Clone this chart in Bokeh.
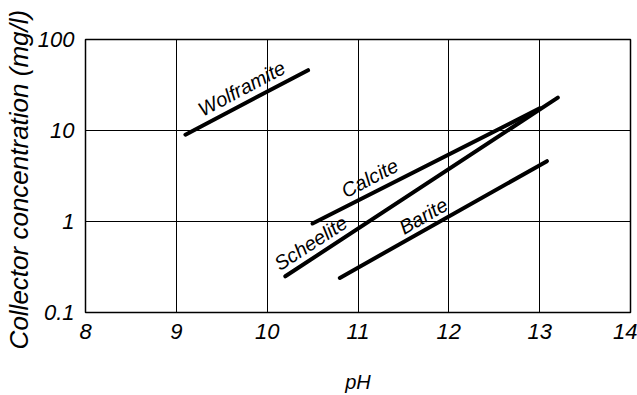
from bokeh.plotting import figure
from bokeh.models import FixedTicker, Label
from bokeh.embed import file_html
from bokeh.resources import INLINE

# ---- data ----
x_ticks = [8, 9, 10, 11, 12, 13, 14]
x_tick_labels = ["8", "9", "10", "11", "12", "13", "14"]
y_ticks = [0.1, 1, 10, 100]
y_tick_labels = ["0.1", "1", "10", "100"]

wolframite_ph = [9.1, 10.45]
wolframite_conc = [9.0, 46.0]
calcite_ph = [10.5, 13.0]
calcite_conc = [0.95, 17.5]
scheelite_ph = [10.2, 13.2]
scheelite_conc = [0.25, 23.0]
barite_ph = [10.8, 13.08]
barite_conc = [0.24, 4.6]

series_names = ["Wolframite", "Calcite", "Scheelite", "Barite"]
label_ph = [9.72, 11.13, 10.48, 11.72]
label_conc = [29.0, 3.0, 0.58, 1.15]
label_angle = [28, 28, 33, 30]

FONT = "Liberation Sans"

p = figure(width=637, height=395, output_backend="svg", toolbar_location=None,
           x_range=(8, 14), y_range=(0.1, 100), y_axis_type="log",
           min_border_left=85, min_border_top=39, min_border_bottom=83,
           min_border_right=7)

p.background_fill_color = "white"
p.border_fill_color = "white"
p.outline_line_color = "black"
p.outline_line_width = 1.5

p.xaxis.ticker = FixedTicker(ticks=x_ticks)
p.yaxis.ticker = FixedTicker(ticks=y_ticks)
p.xaxis.major_label_overrides = {t: s for t, s in zip(x_ticks, x_tick_labels)}
p.yaxis.major_label_overrides = {t: s for t, s in zip(y_ticks, y_tick_labels)}

for ax in (p.xaxis, p.yaxis):
    ax.axis_line_color = None
    ax.major_tick_line_color = None
    ax.minor_tick_line_color = None
    ax.major_label_text_font = FONT
    ax.major_label_text_font_style = "italic"
    ax.major_label_text_font_size = "22px"
    ax.major_label_text_color = "black"
    ax.axis_label_text_font = FONT
    ax.axis_label_text_font_style = "italic"
    ax.axis_label_text_color = "black"

p.xaxis.axis_label = "pH"
p.xaxis.axis_label_text_font_size = "20px"
p.xaxis.major_label_standoff = 5
p.xaxis.axis_label_standoff = 29

p.yaxis.axis_label = "Collector concentration  (mg/l)"
p.yaxis.axis_label_text_font_size = "26px"
p.yaxis.major_label_standoff = 5
p.yaxis.axis_label_standoff = 1

p.xgrid.ticker = FixedTicker(ticks=x_ticks)
p.ygrid.ticker = FixedTicker(ticks=y_ticks)
for g in (p.xgrid, p.ygrid):
    g.grid_line_color = "black"
    g.grid_line_width = 1
    g.grid_line_alpha = 1.0

for xs, ys in [(wolframite_ph, wolframite_conc), (calcite_ph, calcite_conc),
               (scheelite_ph, scheelite_conc), (barite_ph, barite_conc)]:
    p.line(xs, ys, line_color="black", line_width=4, line_cap="round")

for name, lx, ly, ang in zip(series_names, label_ph, label_conc, label_angle):
    p.add_layout(Label(x=lx, y=ly, text=name, angle=ang, angle_units="deg",
                       text_align="center", text_baseline="alphabetic",
                       text_font=FONT, text_font_style="italic",
                       text_font_size="20px", text_color="black"))

open("out.html", "w").write(file_html(p, INLINE))
